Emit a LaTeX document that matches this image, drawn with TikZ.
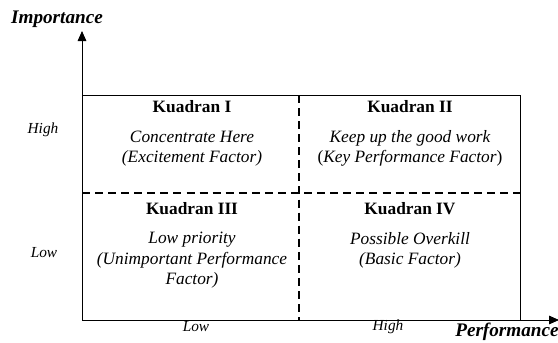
\documentclass[tikz,border=0pt]{standalone}
\usepackage{fontspec}
\setmainfont{Liberation Serif}
\usetikzlibrary{arrows.meta}
\begin{document}
\begin{tikzpicture}[
    x=0.75pt, y=-0.75pt,
    every node/.append style={inner sep=0pt, align=center},
    axis/.style={line width=0.6pt, -{Triangle[length=7.5pt, width=6.5pt]}},
    frame/.style={line width=0.6pt},
    split/.style={line width=1.4pt, dash pattern=on 6pt off 3.8pt},
    title/.style={font=\fontsize{13}{15.4}\selectfont\bfseries},
    desc/.style={font=\fontsize{13}{15.4}\selectfont\itshape},
    level/.style={font=\fontsize{11.5}{13}\selectfont\itshape},
    axlabel/.style={font=\fontsize{14.4}{16}\selectfont\bfseries\itshape}
]
    \useasboundingbox (0,0) rectangle (558,343);
    \clip (0,0) rectangle (558,343);

    % Titik sudut
    \coordinate (origin) at (82,320);
    \coordinate (ytip) at (82,31);
    \coordinate (xtip) at (559,320);
    \coordinate (topleft) at (82,95);
    \coordinate (topright) at (520,95);
    \coordinate (botright) at (520,320);
    \coordinate (midtop) at (299,95);
    \coordinate (midbot) at (299,320);
    \coordinate (midleft) at (82,193);
    \coordinate (midright) at (520,193);

    % Sumbu
    \draw[axis] (origin) -- (ytip);
    \draw[axis] (origin) -- (xtip);
    \node[axlabel] (imp) at (57,19) {Importance};
    \node[axlabel, anchor=west] (perf) at (455,332) {Performance};

    % Bingkai dan garis pembagi
    \draw[frame] (topleft) -- (topright) -- (botright);
    \draw[split] (midtop) -- (midbot);
    \draw[split] (midleft) -- (midright);

    % Label tingkat
    \node[level] (yhigh) at (43,130) {High};
    \node[level] (ylow) at (44,253) {Low};
    \node[level] (xlow) at (196,327) {Low};
    \node[level] (xhigh) at (388,327) {High};

    % Kuadran
    \node[title] (k1) at (192,107) {Kuadran I};
    \node[desc] (d1) at (192,148.5) {Concentrate Here\\(Excitement Factor)};
    \node[title] (k2) at (410,107) {Kuadran II};
    \node[desc] (d2) at (410,148.5) {Keep up the good work\\\upshape(\itshape Key Performance Factor\upshape)};
    \node[title] (k3) at (192,209) {Kuadran III};
    \node[desc] (d3) at (192,260.5) {Low priority\\(Unimportant Performance\\Factor)};
    \node[title] (k4) at (410,209) {Kuadran IV};
    \node[desc] (d4) at (410,250.5) {Possible Overkill\\(Basic Factor)};
\end{tikzpicture}
\end{document}
